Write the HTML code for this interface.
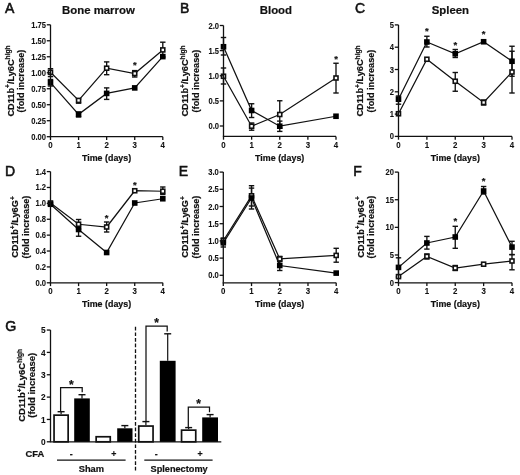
<!DOCTYPE html>
<html><head><meta charset="utf-8"><style>
html,body{margin:0;padding:0;background:#fff;width:520px;height:475px;overflow:hidden}
svg{display:block;filter:blur(0.25px)}
text{font-family:"Liberation Sans", sans-serif;fill:#111;stroke:#111;stroke-width:0.2px}
text.tk{stroke-width:0.08px}
text.yl{stroke-width:0.2px}
</style></head><body>
<svg width="520" height="475" viewBox="0 0 520 475">
<rect width="520" height="475" fill="#fff"/>
<g stroke="#111" fill="none">
<path d="M50.5,72.3 L78.58,100.4 L106.65,68.2 L134.73,73.5 L162.8,49.9" fill="none" stroke-width="1.25"/>
<path d="M50.5,82.6 L78.58,114.3 L106.65,93.4 L134.73,87.9 L162.8,56.6" fill="none" stroke-width="1.25"/>
<line x1="50.5" y1="68.7" x2="50.5" y2="76.6" stroke-width="1.35" />
<line x1="47.8" y1="68.7" x2="53.2" y2="68.7" stroke-width="1.4" />
<line x1="47.8" y1="76.6" x2="53.2" y2="76.6" stroke-width="1.4" />
<line x1="78.58" y1="99" x2="78.58" y2="103.2" stroke-width="1.35" />
<line x1="75.88" y1="99" x2="81.28" y2="99" stroke-width="1.4" />
<line x1="75.88" y1="103.2" x2="81.28" y2="103.2" stroke-width="1.4" />
<line x1="106.65" y1="61.9" x2="106.65" y2="74.7" stroke-width="1.35" />
<line x1="103.95" y1="61.9" x2="109.35" y2="61.9" stroke-width="1.4" />
<line x1="103.95" y1="74.7" x2="109.35" y2="74.7" stroke-width="1.4" />
<line x1="134.73" y1="70.6" x2="134.73" y2="77" stroke-width="1.35" />
<line x1="132.03" y1="70.6" x2="137.43" y2="70.6" stroke-width="1.4" />
<line x1="132.03" y1="77" x2="137.43" y2="77" stroke-width="1.4" />
<line x1="162.8" y1="42.2" x2="162.8" y2="57" stroke-width="1.35" />
<line x1="160.1" y1="42.2" x2="165.5" y2="42.2" stroke-width="1.4" />
<line x1="160.1" y1="57" x2="165.5" y2="57" stroke-width="1.4" />
<line x1="50.5" y1="79.5" x2="50.5" y2="86" stroke-width="1.35" />
<line x1="47.8" y1="79.5" x2="53.2" y2="79.5" stroke-width="1.4" />
<line x1="47.8" y1="86" x2="53.2" y2="86" stroke-width="1.4" />
<line x1="78.58" y1="112" x2="78.58" y2="117" stroke-width="1.35" />
<line x1="75.88" y1="112" x2="81.28" y2="112" stroke-width="1.4" />
<line x1="75.88" y1="117" x2="81.28" y2="117" stroke-width="1.4" />
<line x1="106.65" y1="87.9" x2="106.65" y2="99.4" stroke-width="1.35" />
<line x1="103.95" y1="87.9" x2="109.35" y2="87.9" stroke-width="1.4" />
<line x1="103.95" y1="99.4" x2="109.35" y2="99.4" stroke-width="1.4" />
<rect x="48.5" y="70.3" width="4" height="4" fill="#fff" stroke-width="1.6"/>
<rect x="76.58" y="98.4" width="4" height="4" fill="#fff" stroke-width="1.6"/>
<rect x="104.65" y="66.2" width="4" height="4" fill="#fff" stroke-width="1.6"/>
<rect x="132.73" y="71.5" width="4" height="4" fill="#fff" stroke-width="1.6"/>
<rect x="160.8" y="47.9" width="4" height="4" fill="#fff" stroke-width="1.6"/>
<rect x="47.7" y="79.8" width="5.6" height="5.6" fill="#000" stroke="none"/>
<rect x="75.78" y="111.5" width="5.6" height="5.6" fill="#000" stroke="none"/>
<rect x="103.85" y="90.6" width="5.6" height="5.6" fill="#000" stroke="none"/>
<rect x="131.93" y="85.1" width="5.6" height="5.6" fill="#000" stroke="none"/>
<rect x="160.0" y="53.8" width="5.6" height="5.6" fill="#000" stroke="none"/>
<text x="134.73" y="68.42" font-size="9.5" text-anchor="middle" font-weight="bold" >*</text>
<text x="5" y="12.6" font-size="14.0" text-anchor="start" font-weight="normal" style="stroke:#111;stroke-width:0.55px">A</text>
<text x="98.4" y="13.6" font-size="11.4" text-anchor="middle" font-weight="bold" >Bone marrow</text>
<text x="106.6" y="160.6" font-size="8.9" text-anchor="middle" font-weight="bold" >Time (days)</text>
<text class="yl" transform="translate(13.5,81) rotate(-90)" font-size="9.2" font-weight="bold" text-anchor="middle">CD11b<tspan font-size="6.6" dy="-3.3">+</tspan><tspan dy="3.3">/Ly6C</tspan><tspan font-size="6.6" dy="-3.3">high</tspan></text>
<text class="yl" transform="translate(24.2,81) rotate(-90)" font-size="9.2" font-weight="bold" text-anchor="middle">(fold increase)</text>
<path d="M223.5,76.25 L251.62,126.2 L279.75,114.5 L336.0,78" fill="none" stroke-width="1.25"/>
<path d="M223.5,46.75 L251.62,110.5 L279.75,126.2 L336.0,116.25" fill="none" stroke-width="1.25"/>
<line x1="223.5" y1="68" x2="223.5" y2="84" stroke-width="1.35" />
<line x1="220.8" y1="68" x2="226.2" y2="68" stroke-width="1.4" />
<line x1="220.8" y1="84" x2="226.2" y2="84" stroke-width="1.4" />
<line x1="251.62" y1="123" x2="251.62" y2="130.2" stroke-width="1.35" />
<line x1="248.93" y1="123" x2="254.32" y2="123" stroke-width="1.4" />
<line x1="248.93" y1="130.2" x2="254.32" y2="130.2" stroke-width="1.4" />
<line x1="279.75" y1="100.75" x2="279.75" y2="128" stroke-width="1.35" />
<line x1="277.05" y1="100.75" x2="282.45" y2="100.75" stroke-width="1.4" />
<line x1="277.05" y1="128" x2="282.45" y2="128" stroke-width="1.4" />
<line x1="336.0" y1="63.25" x2="336.0" y2="93" stroke-width="1.35" />
<line x1="333.3" y1="63.25" x2="338.7" y2="63.25" stroke-width="1.4" />
<line x1="333.3" y1="93" x2="338.7" y2="93" stroke-width="1.4" />
<line x1="223.5" y1="37.5" x2="223.5" y2="55" stroke-width="1.35" />
<line x1="220.8" y1="37.5" x2="226.2" y2="37.5" stroke-width="1.4" />
<line x1="220.8" y1="55" x2="226.2" y2="55" stroke-width="1.4" />
<line x1="251.62" y1="103.75" x2="251.62" y2="117.5" stroke-width="1.35" />
<line x1="248.93" y1="103.75" x2="254.32" y2="103.75" stroke-width="1.4" />
<line x1="248.93" y1="117.5" x2="254.32" y2="117.5" stroke-width="1.4" />
<line x1="279.75" y1="121.1" x2="279.75" y2="131.4" stroke-width="1.35" />
<line x1="277.05" y1="121.1" x2="282.45" y2="121.1" stroke-width="1.4" />
<line x1="277.05" y1="131.4" x2="282.45" y2="131.4" stroke-width="1.4" />
<rect x="221.5" y="74.25" width="4" height="4" fill="#fff" stroke-width="1.6"/>
<rect x="249.62" y="124.2" width="4" height="4" fill="#fff" stroke-width="1.6"/>
<rect x="277.75" y="112.5" width="4" height="4" fill="#fff" stroke-width="1.6"/>
<rect x="334.0" y="76.0" width="4" height="4" fill="#fff" stroke-width="1.6"/>
<rect x="220.7" y="43.95" width="5.6" height="5.6" fill="#000" stroke="none"/>
<rect x="248.82" y="107.7" width="5.6" height="5.6" fill="#000" stroke="none"/>
<rect x="276.95" y="123.4" width="5.6" height="5.6" fill="#000" stroke="none"/>
<rect x="333.2" y="113.45" width="5.6" height="5.6" fill="#000" stroke="none"/>
<text x="336.0" y="62.12" font-size="9.5" text-anchor="middle" font-weight="bold" >*</text>
<text x="180" y="12.6" font-size="14.0" text-anchor="start" font-weight="normal" style="stroke:#111;stroke-width:0.55px">B</text>
<text x="275.9" y="13.6" font-size="11.4" text-anchor="middle" font-weight="bold" >Blood</text>
<text x="279.7" y="160.6" font-size="8.9" text-anchor="middle" font-weight="bold" >Time (days)</text>
<text class="yl" transform="translate(188.4,81) rotate(-90)" font-size="9.2" font-weight="bold" text-anchor="middle">CD11b<tspan font-size="6.6" dy="-3.3">+</tspan><tspan dy="3.3">/Ly6C</tspan><tspan font-size="6.6" dy="-3.3">high</tspan></text>
<text class="yl" transform="translate(198.8,81) rotate(-90)" font-size="9.2" font-weight="bold" text-anchor="middle">(fold increase)</text>
<path d="M398.5,113.75 L426.88,59.25 L455.25,81.25 L483.62,102.5 L512.0,72" fill="none" stroke-width="1.25"/>
<path d="M398.5,99.2 L426.88,42 L455.25,53.75 L483.62,41.75 L512.0,61.25" fill="none" stroke-width="1.25"/>
<line x1="455.25" y1="72.5" x2="455.25" y2="91.25" stroke-width="1.35" />
<line x1="452.55" y1="72.5" x2="457.95" y2="72.5" stroke-width="1.4" />
<line x1="452.55" y1="91.25" x2="457.95" y2="91.25" stroke-width="1.4" />
<line x1="483.62" y1="100" x2="483.62" y2="105" stroke-width="1.35" />
<line x1="480.93" y1="100" x2="486.32" y2="100" stroke-width="1.4" />
<line x1="480.93" y1="105" x2="486.32" y2="105" stroke-width="1.4" />
<line x1="512.0" y1="51.25" x2="512.0" y2="93" stroke-width="1.35" />
<line x1="509.3" y1="51.25" x2="514.7" y2="51.25" stroke-width="1.4" />
<line x1="509.3" y1="93" x2="514.7" y2="93" stroke-width="1.4" />
<line x1="398.5" y1="96.0" x2="398.5" y2="104.2" stroke-width="1.35" />
<line x1="395.8" y1="96.0" x2="401.2" y2="96.0" stroke-width="1.4" />
<line x1="395.8" y1="104.2" x2="401.2" y2="104.2" stroke-width="1.4" />
<line x1="426.88" y1="36.25" x2="426.88" y2="47" stroke-width="1.35" />
<line x1="424.18" y1="36.25" x2="429.57" y2="36.25" stroke-width="1.4" />
<line x1="424.18" y1="47" x2="429.57" y2="47" stroke-width="1.4" />
<line x1="455.25" y1="49.5" x2="455.25" y2="57.5" stroke-width="1.35" />
<line x1="452.55" y1="49.5" x2="457.95" y2="49.5" stroke-width="1.4" />
<line x1="452.55" y1="57.5" x2="457.95" y2="57.5" stroke-width="1.4" />
<line x1="512.0" y1="46.25" x2="512.0" y2="76.25" stroke-width="1.35" />
<line x1="509.3" y1="46.25" x2="514.7" y2="46.25" stroke-width="1.4" />
<line x1="509.3" y1="76.25" x2="514.7" y2="76.25" stroke-width="1.4" />
<rect x="396.5" y="111.75" width="4" height="4" fill="#fff" stroke-width="1.6"/>
<rect x="424.88" y="57.25" width="4" height="4" fill="#fff" stroke-width="1.6"/>
<rect x="453.25" y="79.25" width="4" height="4" fill="#fff" stroke-width="1.6"/>
<rect x="481.62" y="100.5" width="4" height="4" fill="#fff" stroke-width="1.6"/>
<rect x="510.0" y="70.0" width="4" height="4" fill="#fff" stroke-width="1.6"/>
<rect x="395.7" y="96.4" width="5.6" height="5.6" fill="#000" stroke="none"/>
<rect x="424.07" y="39.2" width="5.6" height="5.6" fill="#000" stroke="none"/>
<rect x="452.45" y="50.95" width="5.6" height="5.6" fill="#000" stroke="none"/>
<rect x="480.82" y="38.95" width="5.6" height="5.6" fill="#000" stroke="none"/>
<rect x="509.2" y="58.45" width="5.6" height="5.6" fill="#000" stroke="none"/>
<text x="426.88" y="34.12" font-size="9.5" text-anchor="middle" font-weight="bold" >*</text>
<text x="455.25" y="48.38" font-size="9.5" text-anchor="middle" font-weight="bold" >*</text>
<text x="483.62" y="37.12" font-size="9.5" text-anchor="middle" font-weight="bold" >*</text>
<text x="355" y="12.6" font-size="14.0" text-anchor="start" font-weight="normal" style="stroke:#111;stroke-width:0.55px">C</text>
<text x="450.4" y="13.6" font-size="11.4" text-anchor="middle" font-weight="bold" >Spleen</text>
<text x="455.3" y="160.6" font-size="8.9" text-anchor="middle" font-weight="bold" >Time (days)</text>
<text class="yl" transform="translate(363.2,81) rotate(-90)" font-size="9.2" font-weight="bold" text-anchor="middle">CD11b<tspan font-size="6.6" dy="-3.3">+</tspan><tspan dy="3.3">/Ly6C</tspan><tspan font-size="6.6" dy="-3.3">high</tspan></text>
<text class="yl" transform="translate(373.8,81) rotate(-90)" font-size="9.2" font-weight="bold" text-anchor="middle">(fold increase)</text>
<path d="M50.5,203 L78.58,224.25 L106.65,227 L134.73,190.75 L162.8,191.25" fill="none" stroke-width="1.25"/>
<path d="M50.5,204.25 L78.58,229.5 L106.65,252.5 L134.73,203 L162.8,198.75" fill="none" stroke-width="1.25"/>
<line x1="78.58" y1="219.5" x2="78.58" y2="229" stroke-width="1.35" />
<line x1="75.88" y1="219.5" x2="81.28" y2="219.5" stroke-width="1.4" />
<line x1="75.88" y1="229" x2="81.28" y2="229" stroke-width="1.4" />
<line x1="106.65" y1="222" x2="106.65" y2="232" stroke-width="1.35" />
<line x1="103.95" y1="222" x2="109.35" y2="222" stroke-width="1.4" />
<line x1="103.95" y1="232" x2="109.35" y2="232" stroke-width="1.4" />
<line x1="162.8" y1="187" x2="162.8" y2="194.5" stroke-width="1.35" />
<line x1="160.1" y1="187" x2="165.5" y2="187" stroke-width="1.4" />
<line x1="160.1" y1="194.5" x2="165.5" y2="194.5" stroke-width="1.4" />
<line x1="78.58" y1="225" x2="78.58" y2="236.25" stroke-width="1.35" />
<line x1="75.88" y1="225" x2="81.28" y2="225" stroke-width="1.4" />
<line x1="75.88" y1="236.25" x2="81.28" y2="236.25" stroke-width="1.4" />
<rect x="48.5" y="201.0" width="4" height="4" fill="#fff" stroke-width="1.6"/>
<rect x="76.58" y="222.25" width="4" height="4" fill="#fff" stroke-width="1.6"/>
<rect x="104.65" y="225.0" width="4" height="4" fill="#fff" stroke-width="1.6"/>
<rect x="132.73" y="188.75" width="4" height="4" fill="#fff" stroke-width="1.6"/>
<rect x="160.8" y="189.25" width="4" height="4" fill="#fff" stroke-width="1.6"/>
<rect x="47.7" y="201.45" width="5.6" height="5.6" fill="#000" stroke="none"/>
<rect x="75.78" y="226.7" width="5.6" height="5.6" fill="#000" stroke="none"/>
<rect x="103.85" y="249.7" width="5.6" height="5.6" fill="#000" stroke="none"/>
<rect x="131.93" y="200.2" width="5.6" height="5.6" fill="#000" stroke="none"/>
<rect x="160.0" y="195.95" width="5.6" height="5.6" fill="#000" stroke="none"/>
<text x="106.65" y="220.82" font-size="9.5" text-anchor="middle" font-weight="bold" >*</text>
<text x="134.73" y="187.62" font-size="9.5" text-anchor="middle" font-weight="bold" >*</text>
<text x="5" y="175.5" font-size="14.0" text-anchor="start" font-weight="normal" style="stroke:#111;stroke-width:0.55px">D</text>
<text x="106.6" y="306.8" font-size="8.9" text-anchor="middle" font-weight="bold" >Time (days)</text>
<text class="yl" transform="translate(18.0,227) rotate(-90)" font-size="9.2" font-weight="bold" text-anchor="middle">CD11b<tspan font-size="6.6" dy="-3.3">+</tspan><tspan dy="3.3">/Ly6G</tspan><tspan font-size="6.6" dy="-3.3">+</tspan></text>
<text class="yl" transform="translate(28.6,227) rotate(-90)" font-size="9.2" font-weight="bold" text-anchor="middle">(fold increase)</text>
<path d="M223.3,240.75 L251.53,195.8 L279.75,258.9 L336.2,255.4" fill="none" stroke-width="1.25"/>
<path d="M223.3,242.8 L251.53,198 L279.75,265.5 L336.2,273.1" fill="none" stroke-width="1.25"/>
<line x1="251.53" y1="185.7" x2="251.53" y2="206" stroke-width="1.35" />
<line x1="248.83" y1="185.7" x2="254.22" y2="185.7" stroke-width="1.4" />
<line x1="248.83" y1="206" x2="254.22" y2="206" stroke-width="1.4" />
<line x1="279.75" y1="256.4" x2="279.75" y2="261.5" stroke-width="1.35" />
<line x1="277.05" y1="256.4" x2="282.45" y2="256.4" stroke-width="1.4" />
<line x1="277.05" y1="261.5" x2="282.45" y2="261.5" stroke-width="1.4" />
<line x1="336.2" y1="248.3" x2="336.2" y2="262.2" stroke-width="1.35" />
<line x1="333.5" y1="248.3" x2="338.9" y2="248.3" stroke-width="1.4" />
<line x1="333.5" y1="262.2" x2="338.9" y2="262.2" stroke-width="1.4" />
<line x1="223.3" y1="238" x2="223.3" y2="247" stroke-width="1.35" />
<line x1="220.6" y1="238" x2="226.0" y2="238" stroke-width="1.4" />
<line x1="220.6" y1="247" x2="226.0" y2="247" stroke-width="1.4" />
<line x1="251.53" y1="188.1" x2="251.53" y2="209" stroke-width="1.35" />
<line x1="248.83" y1="188.1" x2="254.22" y2="188.1" stroke-width="1.4" />
<line x1="248.83" y1="209" x2="254.22" y2="209" stroke-width="1.4" />
<line x1="279.75" y1="260" x2="279.75" y2="270.5" stroke-width="1.35" />
<line x1="277.05" y1="260" x2="282.45" y2="260" stroke-width="1.4" />
<line x1="277.05" y1="270.5" x2="282.45" y2="270.5" stroke-width="1.4" />
<rect x="221.3" y="238.75" width="4" height="4" fill="#fff" stroke-width="1.6"/>
<rect x="249.53" y="193.8" width="4" height="4" fill="#fff" stroke-width="1.6"/>
<rect x="277.75" y="256.9" width="4" height="4" fill="#fff" stroke-width="1.6"/>
<rect x="334.2" y="253.4" width="4" height="4" fill="#fff" stroke-width="1.6"/>
<rect x="220.5" y="240.0" width="5.6" height="5.6" fill="#000" stroke="none"/>
<rect x="248.72" y="195.2" width="5.6" height="5.6" fill="#000" stroke="none"/>
<rect x="276.95" y="262.7" width="5.6" height="5.6" fill="#000" stroke="none"/>
<rect x="333.4" y="270.3" width="5.6" height="5.6" fill="#000" stroke="none"/>
<text x="178.8" y="175.5" font-size="14.0" text-anchor="start" font-weight="normal" style="stroke:#111;stroke-width:0.55px">E</text>
<text x="279.7" y="306.8" font-size="8.9" text-anchor="middle" font-weight="bold" >Time (days)</text>
<text class="yl" transform="translate(188.0,227) rotate(-90)" font-size="9.2" font-weight="bold" text-anchor="middle">CD11b<tspan font-size="6.6" dy="-3.3">+</tspan><tspan dy="3.3">/Ly6G</tspan><tspan font-size="6.6" dy="-3.3">+</tspan></text>
<text class="yl" transform="translate(198.7,227) rotate(-90)" font-size="9.2" font-weight="bold" text-anchor="middle">(fold increase)</text>
<path d="M398.5,276.6 L426.88,256.4 L455.25,268 L483.62,264.2 L512.0,261" fill="none" stroke-width="1.25"/>
<path d="M398.5,267.4 L426.88,243 L455.25,237 L483.62,191 L512.0,247.1" fill="none" stroke-width="1.25"/>
<line x1="426.88" y1="254" x2="426.88" y2="259" stroke-width="1.35" />
<line x1="424.18" y1="254" x2="429.57" y2="254" stroke-width="1.4" />
<line x1="424.18" y1="259" x2="429.57" y2="259" stroke-width="1.4" />
<line x1="455.25" y1="265.5" x2="455.25" y2="270.5" stroke-width="1.35" />
<line x1="452.55" y1="265.5" x2="457.95" y2="265.5" stroke-width="1.4" />
<line x1="452.55" y1="270.5" x2="457.95" y2="270.5" stroke-width="1.4" />
<line x1="512.0" y1="254.6" x2="512.0" y2="269.8" stroke-width="1.35" />
<line x1="509.3" y1="254.6" x2="514.7" y2="254.6" stroke-width="1.4" />
<line x1="509.3" y1="269.8" x2="514.7" y2="269.8" stroke-width="1.4" />
<line x1="398.5" y1="257.8" x2="398.5" y2="277" stroke-width="1.35" />
<line x1="395.8" y1="257.8" x2="401.2" y2="257.8" stroke-width="1.4" />
<line x1="395.8" y1="277" x2="401.2" y2="277" stroke-width="1.4" />
<line x1="426.88" y1="236.4" x2="426.88" y2="249.1" stroke-width="1.35" />
<line x1="424.18" y1="236.4" x2="429.57" y2="236.4" stroke-width="1.4" />
<line x1="424.18" y1="249.1" x2="429.57" y2="249.1" stroke-width="1.4" />
<line x1="455.25" y1="226.3" x2="455.25" y2="248.3" stroke-width="1.35" />
<line x1="452.55" y1="226.3" x2="457.95" y2="226.3" stroke-width="1.4" />
<line x1="452.55" y1="248.3" x2="457.95" y2="248.3" stroke-width="1.4" />
<line x1="483.62" y1="186.5" x2="483.62" y2="194" stroke-width="1.35" />
<line x1="480.93" y1="186.5" x2="486.32" y2="186.5" stroke-width="1.4" />
<line x1="480.93" y1="194" x2="486.32" y2="194" stroke-width="1.4" />
<line x1="512.0" y1="241.3" x2="512.0" y2="254.6" stroke-width="1.35" />
<line x1="509.3" y1="241.3" x2="514.7" y2="241.3" stroke-width="1.4" />
<line x1="509.3" y1="254.6" x2="514.7" y2="254.6" stroke-width="1.4" />
<rect x="396.5" y="274.6" width="4" height="4" fill="#fff" stroke-width="1.6"/>
<rect x="424.88" y="254.4" width="4" height="4" fill="#fff" stroke-width="1.6"/>
<rect x="453.25" y="266.0" width="4" height="4" fill="#fff" stroke-width="1.6"/>
<rect x="481.62" y="262.2" width="4" height="4" fill="#fff" stroke-width="1.6"/>
<rect x="510.0" y="259.0" width="4" height="4" fill="#fff" stroke-width="1.6"/>
<rect x="395.7" y="264.6" width="5.6" height="5.6" fill="#000" stroke="none"/>
<rect x="424.07" y="240.2" width="5.6" height="5.6" fill="#000" stroke="none"/>
<rect x="452.45" y="234.2" width="5.6" height="5.6" fill="#000" stroke="none"/>
<rect x="480.82" y="188.2" width="5.6" height="5.6" fill="#000" stroke="none"/>
<rect x="509.2" y="244.3" width="5.6" height="5.6" fill="#000" stroke="none"/>
<text x="455.25" y="223.93" font-size="9.5" text-anchor="middle" font-weight="bold" >*</text>
<text x="483.62" y="184.03" font-size="9.5" text-anchor="middle" font-weight="bold" >*</text>
<text x="353.2" y="175.5" font-size="14.0" text-anchor="start" font-weight="normal" style="stroke:#111;stroke-width:0.55px">F</text>
<text x="455.3" y="306.8" font-size="8.9" text-anchor="middle" font-weight="bold" >Time (days)</text>
<text class="yl" transform="translate(363.5,227) rotate(-90)" font-size="9.2" font-weight="bold" text-anchor="middle">CD11b<tspan font-size="6.6" dy="-3.3">+</tspan><tspan dy="3.3">/Ly6G</tspan><tspan font-size="6.6" dy="-3.3">+</tspan></text>
<text class="yl" transform="translate(374.2,227) rotate(-90)" font-size="9.2" font-weight="bold" text-anchor="middle">(fold increase)</text>
<line x1="49.85" y1="441.8" x2="221.3" y2="441.8" stroke-width="1.3" />
<line x1="61.1" y1="414.3" x2="61.1" y2="411.7" stroke-width="1.2" />
<line x1="57.6" y1="411.7" x2="64.6" y2="411.7" stroke-width="1.4" />
<rect x="54.05" y="415.15" width="14.1" height="26.65" fill="#fff" stroke-width="1.7"/>
<line x1="82.0" y1="398.4" x2="82.0" y2="394.7" stroke-width="1.2" />
<line x1="78.5" y1="394.7" x2="85.5" y2="394.7" stroke-width="1.4" />
<rect x="74.2" y="398.4" width="15.6" height="43.4" fill="#000" stroke="none"/>
<rect x="96.15" y="436.75" width="14.1" height="5.05" fill="#fff" stroke-width="1.7"/>
<line x1="124.85" y1="428.3" x2="124.85" y2="425.6" stroke-width="1.2" />
<line x1="121.35" y1="425.6" x2="128.35" y2="425.6" stroke-width="1.4" />
<rect x="117.2" y="428.3" width="15.3" height="13.5" fill="#000" stroke="none"/>
<line x1="145.9" y1="425.2" x2="145.9" y2="421.6" stroke-width="1.2" />
<line x1="142.4" y1="421.6" x2="149.4" y2="421.6" stroke-width="1.4" />
<rect x="138.75" y="426.05" width="14.3" height="15.75" fill="#fff" stroke-width="1.7"/>
<line x1="167.7" y1="360.8" x2="167.7" y2="333.8" stroke-width="1.2" />
<line x1="164.2" y1="333.8" x2="171.2" y2="333.8" stroke-width="1.4" />
<rect x="159.8" y="360.8" width="15.8" height="81.0" fill="#000" stroke="none"/>
<line x1="188.65" y1="429.3" x2="188.65" y2="427.6" stroke-width="1.2" />
<line x1="185.15" y1="427.6" x2="192.15" y2="427.6" stroke-width="1.4" />
<rect x="181.55" y="430.15" width="14.2" height="11.65" fill="#fff" stroke-width="1.7"/>
<line x1="210.1" y1="417.4" x2="210.1" y2="414.6" stroke-width="1.2" />
<line x1="206.6" y1="414.6" x2="213.6" y2="414.6" stroke-width="1.4" />
<rect x="202.2" y="417.4" width="15.8" height="24.4" fill="#000" stroke="none"/>
<path d="M60.6,411.7 L60.6,387.5 L82.2,387.5 L82.2,392.3" fill="none" stroke-width="1.25"/>
<text x="71.4" y="388.8" font-size="12" text-anchor="middle" font-weight="bold" >*</text>
<path d="M146,421.6 L146,326.1 L167.2,326.1 L167.2,331.5" fill="none" stroke-width="1.25"/>
<text x="156.6" y="326.6" font-size="12" text-anchor="middle" font-weight="bold" >*</text>
<path d="M188.3,427.6 L188.3,407.1 L209.5,407.1 L209.5,412.3" fill="none" stroke-width="1.25"/>
<text x="198.5" y="407.5" font-size="12" text-anchor="middle" font-weight="bold" >*</text>
<line x1="135.5" y1="326.8" x2="135.5" y2="471" stroke-width="1.3" stroke-dasharray="3.7,1.9"/>
<text x="25.6" y="457" font-size="9.4" text-anchor="start" font-weight="bold" >CFA</text>
<text x="71.3" y="457" font-size="8.8" text-anchor="middle" font-weight="bold" >-</text>
<text x="113.8" y="457" font-size="8.8" text-anchor="middle" font-weight="bold" >+</text>
<text x="156.3" y="457" font-size="8.8" text-anchor="middle" font-weight="bold" >-</text>
<text x="200" y="457" font-size="8.8" text-anchor="middle" font-weight="bold" >+</text>
<line x1="57" y1="460.2" x2="125.6" y2="460.2" stroke-width="1.2" />
<line x1="144.3" y1="460.2" x2="212.6" y2="460.2" stroke-width="1.2" />
<text x="91.4" y="472" font-size="9.3" text-anchor="middle" font-weight="bold" >Sham</text>
<text x="179.1" y="472" font-size="9.2" text-anchor="middle" font-weight="bold" >Splenectomy</text>
<text x="5.2" y="331" font-size="14.2" text-anchor="start" font-weight="normal" style="stroke:#111;stroke-width:0.55px">G</text>
<text class="yl" transform="translate(25.0,385.3) rotate(-90)" font-size="9.5" font-weight="bold" text-anchor="middle">CD11b<tspan font-size="6.6" dy="-3.3">+</tspan><tspan dy="3.3">/Ly6C</tspan><tspan font-size="6.6" dy="-3.3">high</tspan></text>
<text class="yl" transform="translate(35.0,385.3) rotate(-90)" font-size="9.5" font-weight="bold" text-anchor="middle">(fold increase)</text>
<line x1="50.5" y1="24.79" x2="50.5" y2="136.7" stroke-width="1.3" />
<line x1="46.8" y1="136.7" x2="50.5" y2="136.7" stroke-width="1.3" />
<text transform="translate(46.0,139.71) scale(1,1.1)" font-size="7.6" text-anchor="end" font-weight="bold" class="tk">0.00</text>
<line x1="46.8" y1="120.71" x2="50.5" y2="120.71" stroke-width="1.3" />
<text transform="translate(46.0,123.72) scale(1,1.1)" font-size="7.6" text-anchor="end" font-weight="bold" class="tk">0.25</text>
<line x1="46.8" y1="104.72" x2="50.5" y2="104.72" stroke-width="1.3" />
<text transform="translate(46.0,107.73) scale(1,1.1)" font-size="7.6" text-anchor="end" font-weight="bold" class="tk">0.50</text>
<line x1="46.8" y1="88.74" x2="50.5" y2="88.74" stroke-width="1.3" />
<text transform="translate(46.0,91.75) scale(1,1.1)" font-size="7.6" text-anchor="end" font-weight="bold" class="tk">0.75</text>
<line x1="46.8" y1="72.75" x2="50.5" y2="72.75" stroke-width="1.3" />
<text transform="translate(46.0,75.76) scale(1,1.1)" font-size="7.6" text-anchor="end" font-weight="bold" class="tk">1.00</text>
<line x1="46.8" y1="56.76" x2="50.5" y2="56.76" stroke-width="1.3" />
<text transform="translate(46.0,59.77) scale(1,1.1)" font-size="7.6" text-anchor="end" font-weight="bold" class="tk">1.25</text>
<line x1="46.8" y1="40.77" x2="50.5" y2="40.77" stroke-width="1.3" />
<text transform="translate(46.0,43.78) scale(1,1.1)" font-size="7.6" text-anchor="end" font-weight="bold" class="tk">1.50</text>
<line x1="46.8" y1="24.79" x2="50.5" y2="24.79" stroke-width="1.3" />
<text transform="translate(46.0,27.80) scale(1,1.1)" font-size="7.6" text-anchor="end" font-weight="bold" class="tk">1.75</text>
<line x1="49.85" y1="136.7" x2="162.8" y2="136.7" stroke-width="1.3" />
<line x1="50.5" y1="136.7" x2="50.5" y2="140.0" stroke-width="1.3" />
<text transform="translate(50.5,148.3) scale(1,1.1)" font-size="7.9" text-anchor="middle" font-weight="bold" class="tk">0</text>
<line x1="78.58" y1="136.7" x2="78.58" y2="140.0" stroke-width="1.3" />
<text transform="translate(78.58,148.3) scale(1,1.1)" font-size="7.9" text-anchor="middle" font-weight="bold" class="tk">1</text>
<line x1="106.65" y1="136.7" x2="106.65" y2="140.0" stroke-width="1.3" />
<text transform="translate(106.65,148.3) scale(1,1.1)" font-size="7.9" text-anchor="middle" font-weight="bold" class="tk">2</text>
<line x1="134.73" y1="136.7" x2="134.73" y2="140.0" stroke-width="1.3" />
<text transform="translate(134.73,148.3) scale(1,1.1)" font-size="7.9" text-anchor="middle" font-weight="bold" class="tk">3</text>
<line x1="162.8" y1="136.7" x2="162.8" y2="140.0" stroke-width="1.3" />
<text transform="translate(162.8,148.3) scale(1,1.1)" font-size="7.9" text-anchor="middle" font-weight="bold" class="tk">4</text>
<line x1="223.5" y1="25.5" x2="223.5" y2="136.4" stroke-width="1.3" />
<line x1="219.8" y1="126.0" x2="223.5" y2="126.0" stroke-width="1.3" />
<text transform="translate(219.0,129.01) scale(1,1.1)" font-size="7.6" text-anchor="end" font-weight="bold" class="tk">0.0</text>
<line x1="219.8" y1="100.88" x2="223.5" y2="100.88" stroke-width="1.3" />
<text transform="translate(219.0,103.88) scale(1,1.1)" font-size="7.6" text-anchor="end" font-weight="bold" class="tk">0.5</text>
<line x1="219.8" y1="75.75" x2="223.5" y2="75.75" stroke-width="1.3" />
<text transform="translate(219.0,78.76) scale(1,1.1)" font-size="7.6" text-anchor="end" font-weight="bold" class="tk">1.0</text>
<line x1="219.8" y1="50.62" x2="223.5" y2="50.62" stroke-width="1.3" />
<text transform="translate(219.0,53.63) scale(1,1.1)" font-size="7.6" text-anchor="end" font-weight="bold" class="tk">1.5</text>
<line x1="219.8" y1="25.5" x2="223.5" y2="25.5" stroke-width="1.3" />
<text transform="translate(219.0,28.51) scale(1,1.1)" font-size="7.6" text-anchor="end" font-weight="bold" class="tk">2.0</text>
<line x1="222.85" y1="136.4" x2="336" y2="136.4" stroke-width="1.3" />
<line x1="223.5" y1="136.4" x2="223.5" y2="139.7" stroke-width="1.3" />
<text transform="translate(223.5,148.0) scale(1,1.1)" font-size="7.9" text-anchor="middle" font-weight="bold" class="tk">0</text>
<line x1="251.62" y1="136.4" x2="251.62" y2="139.7" stroke-width="1.3" />
<text transform="translate(251.62,148.0) scale(1,1.1)" font-size="7.9" text-anchor="middle" font-weight="bold" class="tk">1</text>
<line x1="279.75" y1="136.4" x2="279.75" y2="139.7" stroke-width="1.3" />
<text transform="translate(279.75,148.0) scale(1,1.1)" font-size="7.9" text-anchor="middle" font-weight="bold" class="tk">2</text>
<line x1="307.88" y1="136.4" x2="307.88" y2="139.7" stroke-width="1.3" />
<text transform="translate(307.88,148.0) scale(1,1.1)" font-size="7.9" text-anchor="middle" font-weight="bold" class="tk">3</text>
<line x1="336.0" y1="136.4" x2="336.0" y2="139.7" stroke-width="1.3" />
<text transform="translate(336.0,148.0) scale(1,1.1)" font-size="7.9" text-anchor="middle" font-weight="bold" class="tk">4</text>
<line x1="398.5" y1="24.9" x2="398.5" y2="136.4" stroke-width="1.3" />
<line x1="394.8" y1="136.4" x2="398.5" y2="136.4" stroke-width="1.3" />
<text transform="translate(394.0,139.41) scale(1,1.1)" font-size="7.6" text-anchor="end" font-weight="bold" class="tk">0</text>
<line x1="394.8" y1="114.1" x2="398.5" y2="114.1" stroke-width="1.3" />
<text transform="translate(394.0,117.11) scale(1,1.1)" font-size="7.6" text-anchor="end" font-weight="bold" class="tk">1</text>
<line x1="394.8" y1="91.8" x2="398.5" y2="91.8" stroke-width="1.3" />
<text transform="translate(394.0,94.81) scale(1,1.1)" font-size="7.6" text-anchor="end" font-weight="bold" class="tk">2</text>
<line x1="394.8" y1="69.5" x2="398.5" y2="69.5" stroke-width="1.3" />
<text transform="translate(394.0,72.51) scale(1,1.1)" font-size="7.6" text-anchor="end" font-weight="bold" class="tk">3</text>
<line x1="394.8" y1="47.2" x2="398.5" y2="47.2" stroke-width="1.3" />
<text transform="translate(394.0,50.21) scale(1,1.1)" font-size="7.6" text-anchor="end" font-weight="bold" class="tk">4</text>
<line x1="394.8" y1="24.9" x2="398.5" y2="24.9" stroke-width="1.3" />
<text transform="translate(394.0,27.91) scale(1,1.1)" font-size="7.6" text-anchor="end" font-weight="bold" class="tk">5</text>
<line x1="397.85" y1="136.4" x2="512" y2="136.4" stroke-width="1.3" />
<line x1="398.5" y1="136.4" x2="398.5" y2="139.7" stroke-width="1.3" />
<text transform="translate(398.5,148.0) scale(1,1.1)" font-size="7.9" text-anchor="middle" font-weight="bold" class="tk">0</text>
<line x1="426.88" y1="136.4" x2="426.88" y2="139.7" stroke-width="1.3" />
<text transform="translate(426.88,148.0) scale(1,1.1)" font-size="7.9" text-anchor="middle" font-weight="bold" class="tk">1</text>
<line x1="455.25" y1="136.4" x2="455.25" y2="139.7" stroke-width="1.3" />
<text transform="translate(455.25,148.0) scale(1,1.1)" font-size="7.9" text-anchor="middle" font-weight="bold" class="tk">2</text>
<line x1="483.62" y1="136.4" x2="483.62" y2="139.7" stroke-width="1.3" />
<text transform="translate(483.62,148.0) scale(1,1.1)" font-size="7.9" text-anchor="middle" font-weight="bold" class="tk">3</text>
<line x1="512.0" y1="136.4" x2="512.0" y2="139.7" stroke-width="1.3" />
<text transform="translate(512.0,148.0) scale(1,1.1)" font-size="7.9" text-anchor="middle" font-weight="bold" class="tk">4</text>
<line x1="50.5" y1="171.6" x2="50.5" y2="282.8" stroke-width="1.3" />
<line x1="46.8" y1="282.8" x2="50.5" y2="282.8" stroke-width="1.3" />
<text transform="translate(46.0,285.81) scale(1,1.1)" font-size="7.6" text-anchor="end" font-weight="bold" class="tk">0.0</text>
<line x1="46.8" y1="266.91" x2="50.5" y2="266.91" stroke-width="1.3" />
<text transform="translate(46.0,269.92) scale(1,1.1)" font-size="7.6" text-anchor="end" font-weight="bold" class="tk">0.2</text>
<line x1="46.8" y1="251.03" x2="50.5" y2="251.03" stroke-width="1.3" />
<text transform="translate(46.0,254.04) scale(1,1.1)" font-size="7.6" text-anchor="end" font-weight="bold" class="tk">0.4</text>
<line x1="46.8" y1="235.14" x2="50.5" y2="235.14" stroke-width="1.3" />
<text transform="translate(46.0,238.15) scale(1,1.1)" font-size="7.6" text-anchor="end" font-weight="bold" class="tk">0.6</text>
<line x1="46.8" y1="219.26" x2="50.5" y2="219.26" stroke-width="1.3" />
<text transform="translate(46.0,222.27) scale(1,1.1)" font-size="7.6" text-anchor="end" font-weight="bold" class="tk">0.8</text>
<line x1="46.8" y1="203.37" x2="50.5" y2="203.37" stroke-width="1.3" />
<text transform="translate(46.0,206.38) scale(1,1.1)" font-size="7.6" text-anchor="end" font-weight="bold" class="tk">1.0</text>
<line x1="46.8" y1="187.48" x2="50.5" y2="187.48" stroke-width="1.3" />
<text transform="translate(46.0,190.49) scale(1,1.1)" font-size="7.6" text-anchor="end" font-weight="bold" class="tk">1.2</text>
<line x1="46.8" y1="171.6" x2="50.5" y2="171.6" stroke-width="1.3" />
<text transform="translate(46.0,174.61) scale(1,1.1)" font-size="7.6" text-anchor="end" font-weight="bold" class="tk">1.4</text>
<line x1="49.85" y1="282.8" x2="162.8" y2="282.8" stroke-width="1.3" />
<line x1="50.5" y1="282.8" x2="50.5" y2="286.1" stroke-width="1.3" />
<text transform="translate(50.5,294.4) scale(1,1.1)" font-size="7.9" text-anchor="middle" font-weight="bold" class="tk">0</text>
<line x1="78.58" y1="282.8" x2="78.58" y2="286.1" stroke-width="1.3" />
<text transform="translate(78.58,294.4) scale(1,1.1)" font-size="7.9" text-anchor="middle" font-weight="bold" class="tk">1</text>
<line x1="106.65" y1="282.8" x2="106.65" y2="286.1" stroke-width="1.3" />
<text transform="translate(106.65,294.4) scale(1,1.1)" font-size="7.9" text-anchor="middle" font-weight="bold" class="tk">2</text>
<line x1="134.73" y1="282.8" x2="134.73" y2="286.1" stroke-width="1.3" />
<text transform="translate(134.73,294.4) scale(1,1.1)" font-size="7.9" text-anchor="middle" font-weight="bold" class="tk">3</text>
<line x1="162.8" y1="282.8" x2="162.8" y2="286.1" stroke-width="1.3" />
<text transform="translate(162.8,294.4) scale(1,1.1)" font-size="7.9" text-anchor="middle" font-weight="bold" class="tk">4</text>
<line x1="223.3" y1="172.1" x2="223.3" y2="282.8" stroke-width="1.3" />
<line x1="219.6" y1="275.3" x2="223.3" y2="275.3" stroke-width="1.3" />
<text transform="translate(218.8,278.31) scale(1,1.1)" font-size="7.6" text-anchor="end" font-weight="bold" class="tk">0.0</text>
<line x1="219.6" y1="258.1" x2="223.3" y2="258.1" stroke-width="1.3" />
<text transform="translate(218.8,261.11) scale(1,1.1)" font-size="7.6" text-anchor="end" font-weight="bold" class="tk">0.5</text>
<line x1="219.6" y1="240.9" x2="223.3" y2="240.9" stroke-width="1.3" />
<text transform="translate(218.8,243.91) scale(1,1.1)" font-size="7.6" text-anchor="end" font-weight="bold" class="tk">1.0</text>
<line x1="219.6" y1="223.7" x2="223.3" y2="223.7" stroke-width="1.3" />
<text transform="translate(218.8,226.71) scale(1,1.1)" font-size="7.6" text-anchor="end" font-weight="bold" class="tk">1.5</text>
<line x1="219.6" y1="206.5" x2="223.3" y2="206.5" stroke-width="1.3" />
<text transform="translate(218.8,209.51) scale(1,1.1)" font-size="7.6" text-anchor="end" font-weight="bold" class="tk">2.0</text>
<line x1="219.6" y1="189.3" x2="223.3" y2="189.3" stroke-width="1.3" />
<text transform="translate(218.8,192.31) scale(1,1.1)" font-size="7.6" text-anchor="end" font-weight="bold" class="tk">2.5</text>
<line x1="219.6" y1="172.1" x2="223.3" y2="172.1" stroke-width="1.3" />
<text transform="translate(218.8,175.11) scale(1,1.1)" font-size="7.6" text-anchor="end" font-weight="bold" class="tk">3.0</text>
<line x1="222.65" y1="282.8" x2="336.2" y2="282.8" stroke-width="1.3" />
<line x1="223.3" y1="282.8" x2="223.3" y2="286.1" stroke-width="1.3" />
<text transform="translate(223.3,294.4) scale(1,1.1)" font-size="7.9" text-anchor="middle" font-weight="bold" class="tk">0</text>
<line x1="251.53" y1="282.8" x2="251.53" y2="286.1" stroke-width="1.3" />
<text transform="translate(251.53,294.4) scale(1,1.1)" font-size="7.9" text-anchor="middle" font-weight="bold" class="tk">1</text>
<line x1="279.75" y1="282.8" x2="279.75" y2="286.1" stroke-width="1.3" />
<text transform="translate(279.75,294.4) scale(1,1.1)" font-size="7.9" text-anchor="middle" font-weight="bold" class="tk">2</text>
<line x1="307.98" y1="282.8" x2="307.98" y2="286.1" stroke-width="1.3" />
<text transform="translate(307.98,294.4) scale(1,1.1)" font-size="7.9" text-anchor="middle" font-weight="bold" class="tk">3</text>
<line x1="336.2" y1="282.8" x2="336.2" y2="286.1" stroke-width="1.3" />
<text transform="translate(336.2,294.4) scale(1,1.1)" font-size="7.9" text-anchor="middle" font-weight="bold" class="tk">4</text>
<line x1="398.5" y1="172.1" x2="398.5" y2="282.8" stroke-width="1.3" />
<line x1="394.8" y1="282.6" x2="398.5" y2="282.6" stroke-width="1.3" />
<text transform="translate(394.0,285.61) scale(1,1.1)" font-size="7.6" text-anchor="end" font-weight="bold" class="tk">0</text>
<line x1="394.8" y1="254.98" x2="398.5" y2="254.98" stroke-width="1.3" />
<text transform="translate(394.0,257.98) scale(1,1.1)" font-size="7.6" text-anchor="end" font-weight="bold" class="tk">5</text>
<line x1="394.8" y1="227.35" x2="398.5" y2="227.35" stroke-width="1.3" />
<text transform="translate(394.0,230.36) scale(1,1.1)" font-size="7.6" text-anchor="end" font-weight="bold" class="tk">10</text>
<line x1="394.8" y1="199.73" x2="398.5" y2="199.73" stroke-width="1.3" />
<text transform="translate(394.0,202.73) scale(1,1.1)" font-size="7.6" text-anchor="end" font-weight="bold" class="tk">15</text>
<line x1="394.8" y1="172.1" x2="398.5" y2="172.1" stroke-width="1.3" />
<text transform="translate(394.0,175.11) scale(1,1.1)" font-size="7.6" text-anchor="end" font-weight="bold" class="tk">20</text>
<line x1="397.85" y1="282.8" x2="512" y2="282.8" stroke-width="1.3" />
<line x1="398.5" y1="282.8" x2="398.5" y2="286.1" stroke-width="1.3" />
<text transform="translate(398.5,294.4) scale(1,1.1)" font-size="7.9" text-anchor="middle" font-weight="bold" class="tk">0</text>
<line x1="426.88" y1="282.8" x2="426.88" y2="286.1" stroke-width="1.3" />
<text transform="translate(426.88,294.4) scale(1,1.1)" font-size="7.9" text-anchor="middle" font-weight="bold" class="tk">1</text>
<line x1="455.25" y1="282.8" x2="455.25" y2="286.1" stroke-width="1.3" />
<text transform="translate(455.25,294.4) scale(1,1.1)" font-size="7.9" text-anchor="middle" font-weight="bold" class="tk">2</text>
<line x1="483.62" y1="282.8" x2="483.62" y2="286.1" stroke-width="1.3" />
<text transform="translate(483.62,294.4) scale(1,1.1)" font-size="7.9" text-anchor="middle" font-weight="bold" class="tk">3</text>
<line x1="512.0" y1="282.8" x2="512.0" y2="286.1" stroke-width="1.3" />
<text transform="translate(512.0,294.4) scale(1,1.1)" font-size="7.9" text-anchor="middle" font-weight="bold" class="tk">4</text>
<line x1="50.5" y1="330.05" x2="50.5" y2="441.8" stroke-width="1.3" />
<line x1="46.8" y1="441.8" x2="50.5" y2="441.8" stroke-width="1.3" />
<text transform="translate(45.5,445.09) scale(1,1.1)" font-size="8.3" text-anchor="end" font-weight="bold" class="tk">0</text>
<line x1="46.8" y1="419.45" x2="50.5" y2="419.45" stroke-width="1.3" />
<text transform="translate(45.5,422.74) scale(1,1.1)" font-size="8.3" text-anchor="end" font-weight="bold" class="tk">1</text>
<line x1="46.8" y1="397.1" x2="50.5" y2="397.1" stroke-width="1.3" />
<text transform="translate(45.5,400.39) scale(1,1.1)" font-size="8.3" text-anchor="end" font-weight="bold" class="tk">2</text>
<line x1="46.8" y1="374.75" x2="50.5" y2="374.75" stroke-width="1.3" />
<text transform="translate(45.5,378.04) scale(1,1.1)" font-size="8.3" text-anchor="end" font-weight="bold" class="tk">3</text>
<line x1="46.8" y1="352.4" x2="50.5" y2="352.4" stroke-width="1.3" />
<text transform="translate(45.5,355.69) scale(1,1.1)" font-size="8.3" text-anchor="end" font-weight="bold" class="tk">4</text>
<line x1="46.8" y1="330.05" x2="50.5" y2="330.05" stroke-width="1.3" />
<text transform="translate(45.5,333.34) scale(1,1.1)" font-size="8.3" text-anchor="end" font-weight="bold" class="tk">5</text>
</g>
</svg>
</body></html>
